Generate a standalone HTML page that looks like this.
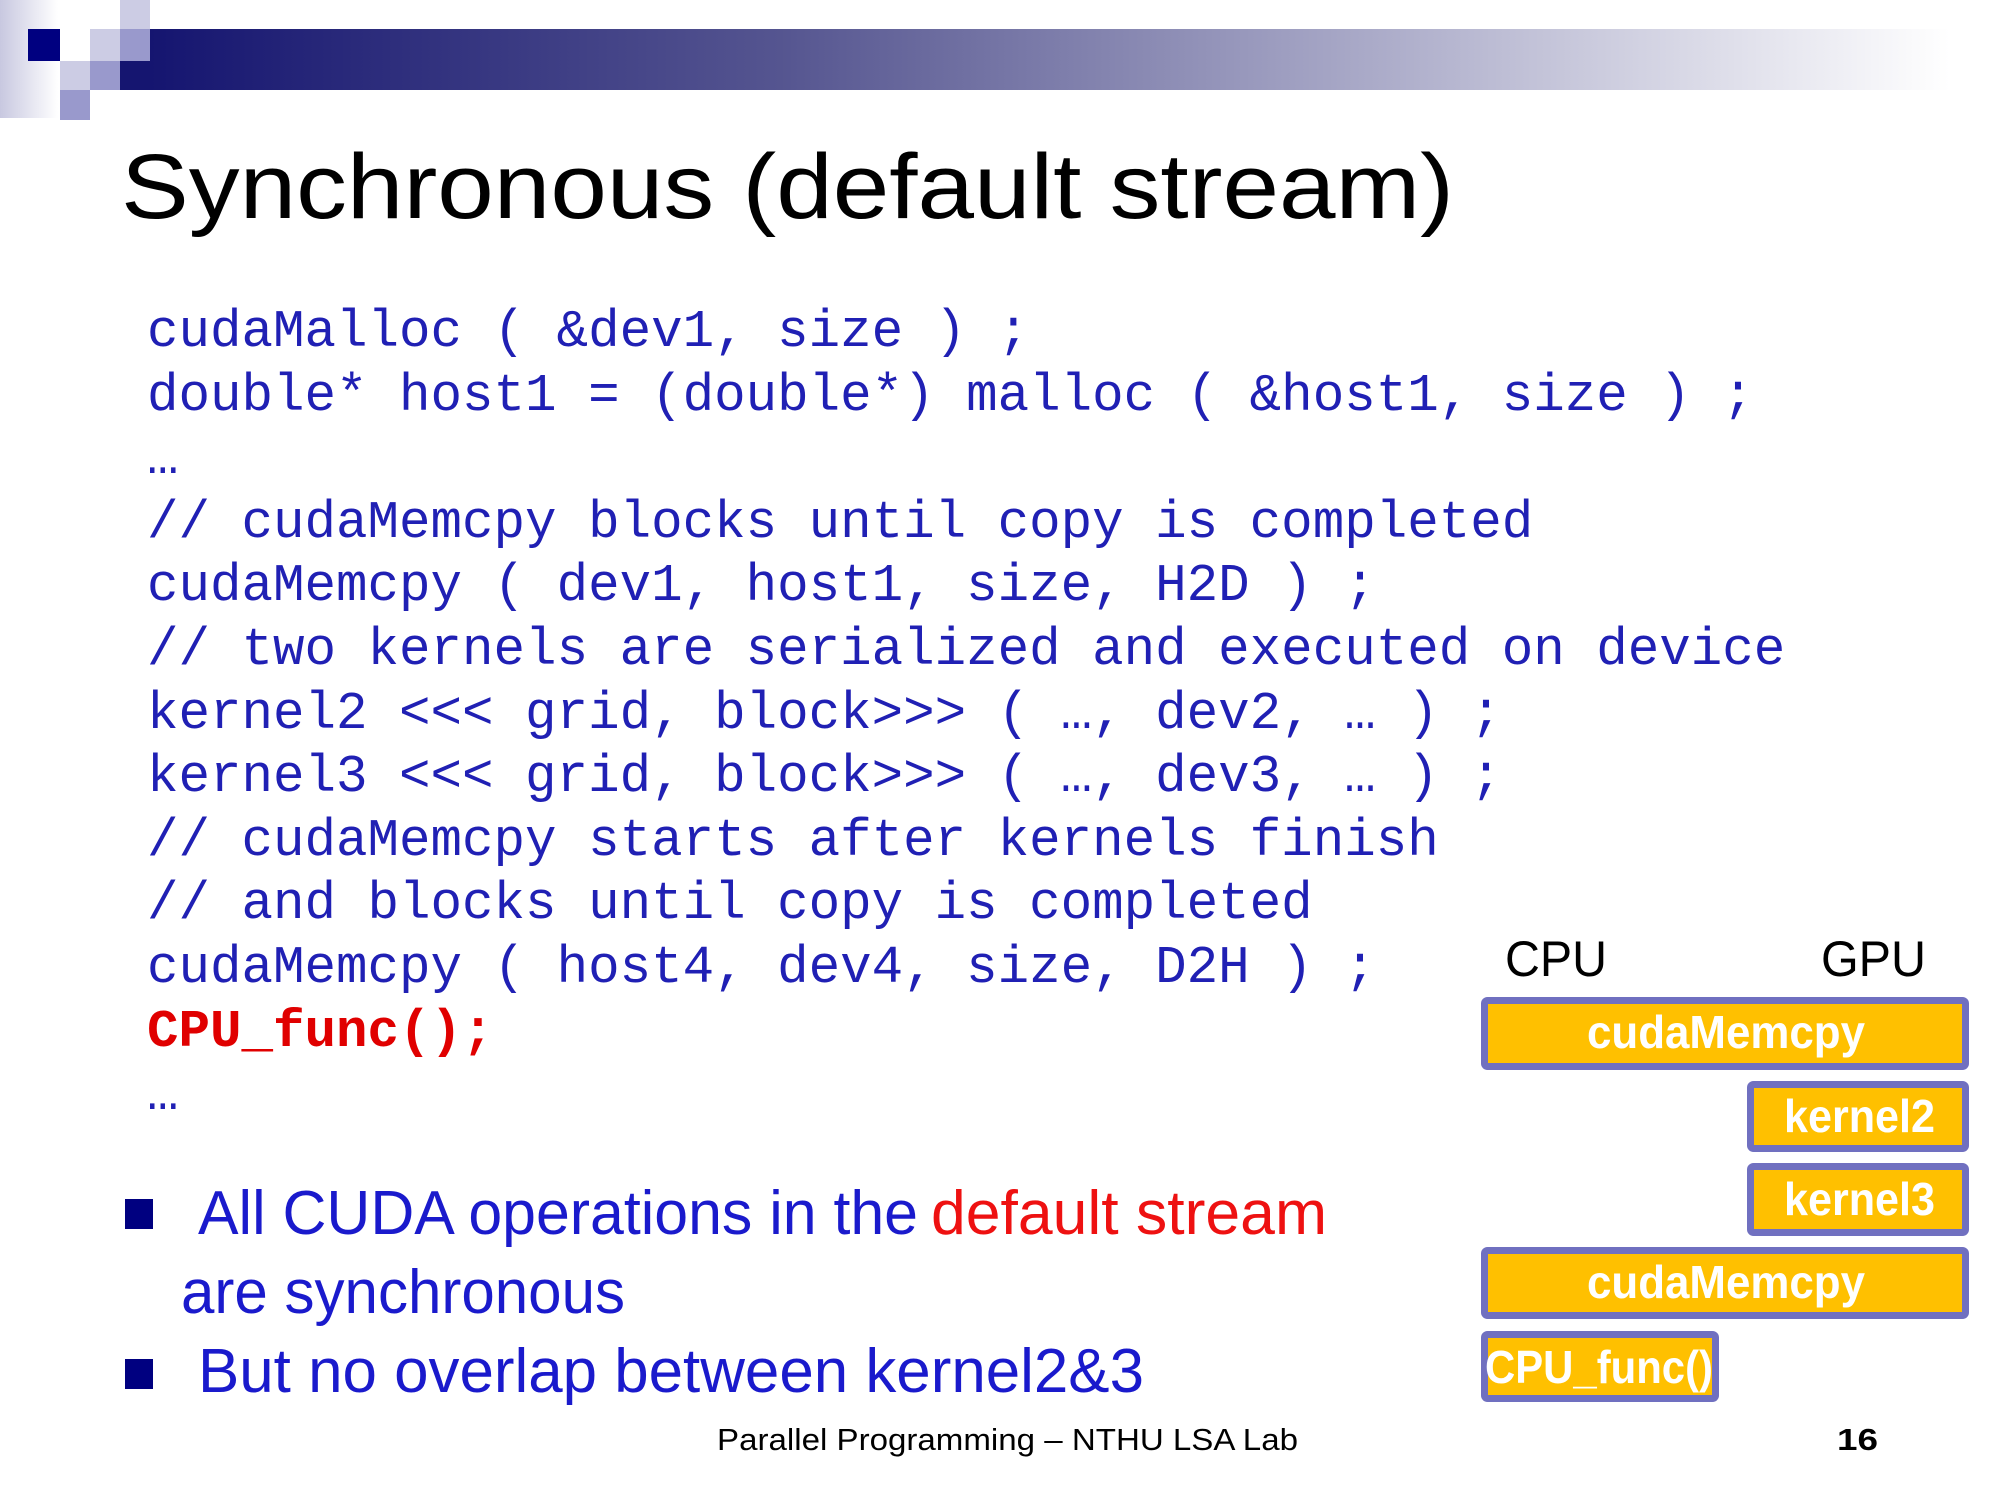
<!DOCTYPE html>
<html><head><meta charset="utf-8"><style>html,body{margin:0;padding:0;background:#fff}svg{display:block}</style></head>
<body>
<svg width="2000" height="1500" viewBox="0 0 2000 1500" xmlns="http://www.w3.org/2000/svg">
<defs>
<linearGradient id="bar" x1="0" x2="1" y1="0" y2="0">
<stop offset="0" stop-color="#151570"/>
<stop offset="0.35" stop-color="#555590"/>
<stop offset="0.7" stop-color="#b0b0cc"/>
<stop offset="1" stop-color="#ffffff"/>
</linearGradient>
<linearGradient id="strip" x1="0" x2="1" y1="0" y2="0">
<stop offset="0" stop-color="#c8c8e0"/>
<stop offset="1" stop-color="#ffffff"/>
</linearGradient>
</defs>
<rect width="2000" height="1500" fill="#fff"/>
<rect x="0" y="0" width="58" height="118" fill="url(#strip)"/>
<rect x="150" y="29" width="1800" height="61" fill="url(#bar)"/>
<rect x="120" y="61" width="30" height="29" fill="#151570"/>
<rect x="28" y="29" width="32" height="32" fill="#000080"/>
<rect x="120" y="0" width="30" height="29" fill="#ccccE4"/>
<rect x="120" y="29" width="30" height="32" fill="#9999cc"/>
<rect x="90" y="29" width="30" height="32" fill="#ccccE4"/>
<rect x="60" y="61" width="30" height="29" fill="#ccccE4"/>
<rect x="90" y="61" width="30" height="29" fill="#9999cc"/>
<rect x="60" y="90" width="30" height="30" fill="#9999cc"/>

<text x="121" y="218" font-family="Liberation Sans, sans-serif" font-size="92" fill="#000" textLength="1333" lengthAdjust="spacingAndGlyphs">Synchronous (default stream)</text>

<g font-family="Liberation Mono, monospace" font-size="52.5" fill="#2020b4">
<text x="147" y="346" xml:space="preserve">cudaMalloc ( &amp;dev1, size ) ;</text>
<text x="147" y="410" xml:space="preserve">double* host1 = (double*) malloc ( &amp;host1, size ) ;</text>
<text x="147" y="473">…</text>
<text x="147" y="537" xml:space="preserve">// cudaMemcpy blocks until copy is completed</text>
<text x="147" y="600" xml:space="preserve">cudaMemcpy ( dev1, host1, size, H2D ) ;</text>
<text x="147" y="664" xml:space="preserve">// two kernels are serialized and executed on device</text>
<text x="147" y="728" xml:space="preserve">kernel2 &lt;&lt;&lt; grid, block&gt;&gt;&gt; ( …, dev2, … ) ;</text>
<text x="147" y="791" xml:space="preserve">kernel3 &lt;&lt;&lt; grid, block&gt;&gt;&gt; ( …, dev3, … ) ;</text>
<text x="147" y="855" xml:space="preserve">// cudaMemcpy starts after kernels finish</text>
<text x="147" y="918" xml:space="preserve">// and blocks until copy is completed</text>
<text x="147" y="982" xml:space="preserve">cudaMemcpy ( host4, dev4, size, D2H ) ;</text>
<text x="147" y="1046" font-weight="bold" fill="#e00000">CPU_func();</text>
<text x="147" y="1109">…</text>
</g>

<rect x="125" y="1199" width="28" height="30" fill="#000080"/>
<rect x="125" y="1359" width="28" height="30" fill="#000080"/>
<g font-family="Liberation Sans, sans-serif" font-size="62" fill="#1a1acc">
<text x="198" y="1234" textLength="720" lengthAdjust="spacingAndGlyphs">All CUDA operations in the</text>
<text x="931" y="1234" fill="#ee1111" textLength="396" lengthAdjust="spacingAndGlyphs">default stream</text>
<text x="181" y="1313" textLength="444" lengthAdjust="spacingAndGlyphs">are synchronous</text>
<text x="198" y="1392" textLength="946" lengthAdjust="spacingAndGlyphs">But no overlap between kernel2&amp;3</text>
</g>

<text x="717" y="1450" font-family="Liberation Sans, sans-serif" font-size="31" fill="#000" textLength="581" lengthAdjust="spacingAndGlyphs">Parallel Programming – NTHU LSA Lab</text>
<text x="1837" y="1450" font-family="Liberation Sans, sans-serif" font-size="31" font-weight="bold" fill="#000" textLength="41" lengthAdjust="spacingAndGlyphs">16</text>

<g font-family="Liberation Sans, sans-serif" font-size="50" fill="#000">
<text x="1505" y="976" textLength="102" lengthAdjust="spacingAndGlyphs">CPU</text>
<text x="1821" y="976" textLength="105" lengthAdjust="spacingAndGlyphs">GPU</text>
</g>

<g fill="#ffc000" stroke="#7070c0" stroke-width="7">
<rect x="1484.5" y="1000.5" width="481" height="66" rx="3"/>
<rect x="1750.5" y="1084.5" width="215" height="64" rx="3"/>
<rect x="1750.5" y="1166.5" width="215" height="66" rx="3"/>
<rect x="1484.5" y="1250.5" width="481" height="65" rx="3"/>
<rect x="1484.5" y="1334.5" width="231" height="64" rx="3"/>
</g>
<g font-family="Liberation Sans, sans-serif" font-size="46" font-weight="bold" fill="#fff">
<text x="1587" y="1048" textLength="278" lengthAdjust="spacingAndGlyphs">cudaMemcpy</text>
<text x="1784" y="1132" textLength="151" lengthAdjust="spacingAndGlyphs">kernel2</text>
<text x="1784" y="1215" textLength="151" lengthAdjust="spacingAndGlyphs">kernel3</text>
<text x="1587" y="1298" textLength="278" lengthAdjust="spacingAndGlyphs">cudaMemcpy</text>
<text x="1485" y="1383" textLength="228" lengthAdjust="spacingAndGlyphs">CPU_func()</text>
</g>
</svg>
</body></html>
